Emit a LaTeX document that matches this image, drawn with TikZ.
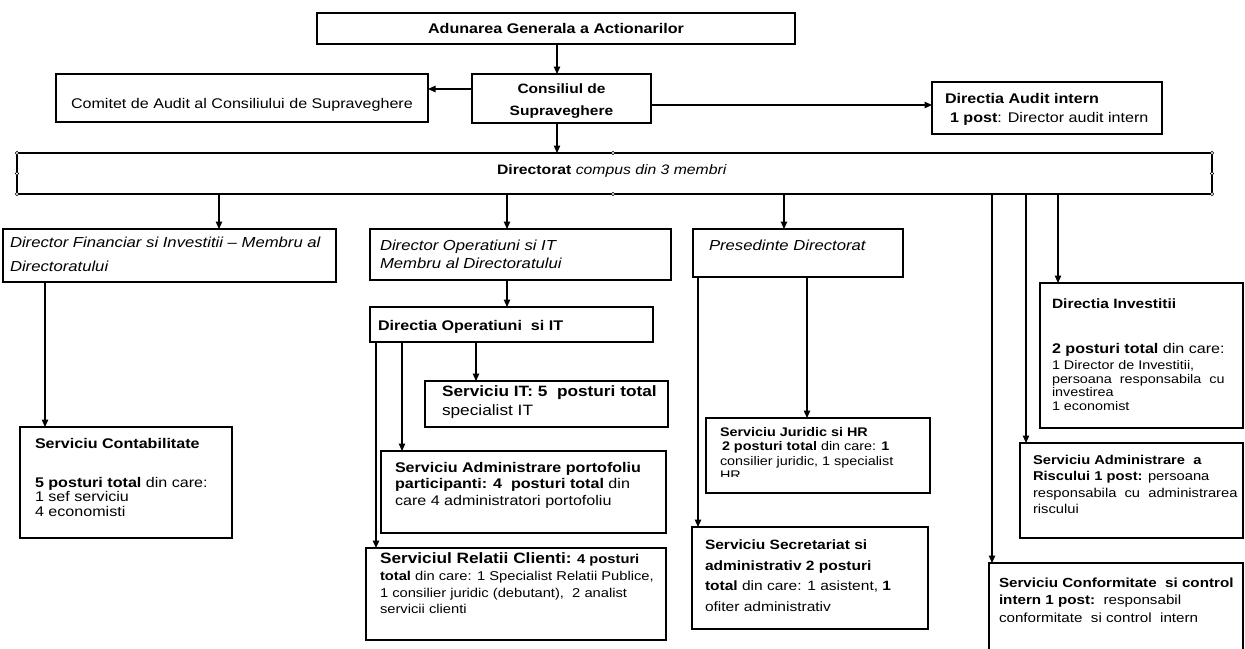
\documentclass[tikz,border=0pt]{standalone}
\usepackage{fontspec}
\setmainfont{Liberation Sans}[FakeStretch=1.15]
\usetikzlibrary{arrows.meta}
\newcommand\fs[2]{\fontsize{#1}{#2}\selectfont}
\newcommand\mkbox[7][]{\node[box, #1, minimum width={#5-#3}, minimum height={#6-#4}] (#2) at (#3,#4) {#7};}
\begin{document}
\begin{tikzpicture}[x=1pt,y=-1pt,
 box/.style={draw, line width=1.4pt, inner sep=0pt, outer sep=0pt, anchor=north west, align=center},
 txt/.style={anchor=north west, inner sep=0pt, outer sep=0pt, align=left},
 arr/.style={line width=1.2pt, -{Triangle[length=7.5pt,width=6.5pt]}},
 handle/.style={circle, draw, fill=white, line width=0.6pt, inner sep=0pt, minimum size=3.5pt}]
\clip (0,0) rectangle (1245,648);
\fill[white] (0,0) rectangle (1245,648);
% boxes
\mkbox[font=\fs{14}{17}\bfseries]{adun}{317}{13}{795}{44}{Adunarea Generala a Actionarilor}
\mkbox{com}{56}{74}{428}{122}{}
\mkbox{cons}{472}{74}{651}{123}{}
\mkbox{audit}{932}{82}{1162}{134}{}
\mkbox{bar}{17}{153}{1212}{194}{}
\mkbox{dirfin}{3}{229}{336}{282}{}
\mkbox{dirop}{370}{229}{671}{280}{}
\mkbox{pres}{693}{229}{903}{277}{}
\mkbox{dirinv}{1040}{283}{1243}{428}{}
\mkbox{diropd}{370}{307}{653}{342}{}
\mkbox{it}{425}{381}{668}{427}{}
\mkbox{contab}{20}{427}{232}{538}{}
\mkbox{jur}{706}{418}{930}{493}{}
\mkbox{admin}{381}{451}{666}{533}{}
\mkbox{risk}{1020}{443}{1243}{538}{}
\mkbox{relatii}{366}{548}{666}{640}{}
\mkbox{secr}{692}{527}{928}{629}{}
\mkbox{conf}{989}{563}{1243}{660}{}
% texts
\node[inner sep=0pt, align=center, font=\fs{13.5}{22}\bfseries] (tcons) at (561.5,101) {Consiliul de\\ Supraveghere};
\node[txt, font=\fs{14}{17}] (tcom) at (71,98) {Comitet de Audit al Consiliului de Supraveghere};
\node[txt, font=\fs{14}{19}] (taudit) at (945,93) {\textbf{Directia Audit intern}\\ \hspace*{5pt}\textbf{1 post}: Director audit intern};
\node[txt, font=\fs{13.7}{17}] (tbar) at (497,165) {\textbf{Directorat} \textit{compus din 3 membri}};
\node[txt, font=\fs{14.5}{24}\itshape] (tdirfin) at (10,237) {Director Financiar si Investitii – Membru al\\ Directoratului};
\node[txt, font=\fs{14.5}{18}\itshape] (tdirop) at (380,240) {Director Operatiuni si IT\\ Membru al Directoratului};
\node[txt, font=\fs{14.5}{18}\itshape] (tpres) at (709,240) {Presedinte Directorat};
\node[txt, font=\fs{14}{17}\bfseries] (tdiropd) at (378,320) {Directia Operatiuni\ \ si IT};
\node[txt, font=\fs{15}{19}] (tit) at (442,386) {\textbf{Serviciu IT: 5\ \ posturi total}\\ specialist IT};
\node[txt, font=\fs{14}{16.7}] (tadmin) at (395,462) {\textbf{Serviciu Administrare portofoliu}\\ \textbf{participanti: 4\ \ posturi total} din\\ care 4 administratori portofoliu};
\node[txt, font=\fs{12.8}{16.7}] (trel) at (380,553) {{\fs{15}{16.7}\bfseries Serviciul Relatii Clienti:} \textbf{4 posturi}\\ \textbf{total} din care: 1 Specialist Relatii Publice,\\ 1 consilier juridic (debutant),\ \ 2 analist\\ servicii clienti};
\node[txt, font=\fs{14}{17}\bfseries] (tcontab1) at (35,438) {Serviciu Contabilitate};
\node[txt, font=\fs{14}{14.5}] (tcontab2) at (35,477) {\textbf{5 posturi total} din care:\\ 1 sef serviciu\\ 4 economisti};
\begin{scope}
\clip (706,418) rectangle (930,476.5);
\node[txt, font=\fs{12.5}{14.3}] (tjur) at (720,427.5) {\textbf{Serviciu Juridic si HR}\\ \hspace*{2pt}\textbf{2 posturi total} din care: \textbf{1}\\ consilier juridic, 1 specialist\\ HR};
\end{scope}
\node[txt, font=\fs{13.5}{20.5}] (tsecr) at (705,540) {\textbf{Serviciu Secretariat si}\\ \textbf{administrativ 2 posturi}\\ \textbf{total} din care: 1 asistent, \textbf{1}\\ ofiter administrativ};
\node[txt, font=\fs{13.5}{17}\bfseries] (tinv1) at (1052,299) {Directia Investitii};
\node[txt, font=\fs{14}{17}] (tinv2) at (1052,343) {\textbf{2 posturi total} din care:};
\node[txt, font=\fs{12.5}{13.5}] (tinv3) at (1052,360.5) {1 Director de Investitii,\\ persoana\ \ responsabila\ \ cu\\ investirea\\ 1 economist};
\node[txt, font=\fs{12.8}{16.5}] (trisk) at (1033,455) {\textbf{Serviciu Administrare\ \ a}\\ \textbf{Riscului 1 post:} persoana\\ responsabila\ \ cu\ \ administrarea\\ riscului};
\node[txt, font=\fs{13.2}{17.5}] (tconf) at (999,577.5) {\textbf{Serviciu Conformitate\ \ si control}\\ \textbf{intern 1 post:}\ \ responsabil\\ conformitate\ \ si control\ \ intern};
% handles on the Directorat frame
\foreach \hx/\hy [count=\i] in {17/153, 613/153, 1212/153, 17/173.5, 1212/173.5, 17/194, 613/194, 1212/194}
  \node[handle] (h\i) at (\hx,\hy) {};
% connectors
\draw[arr] (557,0 |- adun.south) -- (557,0 |- cons.north);
\draw[arr] (cons.west |- 0,89) -- (com.east |- 0,89);
\draw[arr] (cons.east |- 0,105) -- (audit.west |- 0,105);
\draw[arr] (557,0 |- cons.south) -- (557,0 |- bar.north);
\foreach \x/\nm in {219/dirfin, 507/dirop, 784/pres, 992/conf, 1026/risk, 1058/dirinv}
  \draw[arr] (\x,0 |- bar.south) -- (\x,0 |- \nm.north);
\draw[arr] (45,0 |- dirfin.south) -- (45,0 |- contab.north);
\draw[arr] (507,0 |- dirop.south) -- (507,0 |- diropd.north);
\draw[arr] (376,0 |- diropd.south) -- (376,0 |- relatii.north);
\draw[arr] (402,0 |- diropd.south) -- (402,0 |- admin.north);
\draw[arr] (476,0 |- diropd.south) -- (476,0 |- it.north);
\draw[arr] (698,0 |- pres.south) -- (698,0 |- secr.north);
\draw[arr] (807,0 |- pres.south) -- (807,0 |- jur.north);
\end{tikzpicture}
\end{document}
